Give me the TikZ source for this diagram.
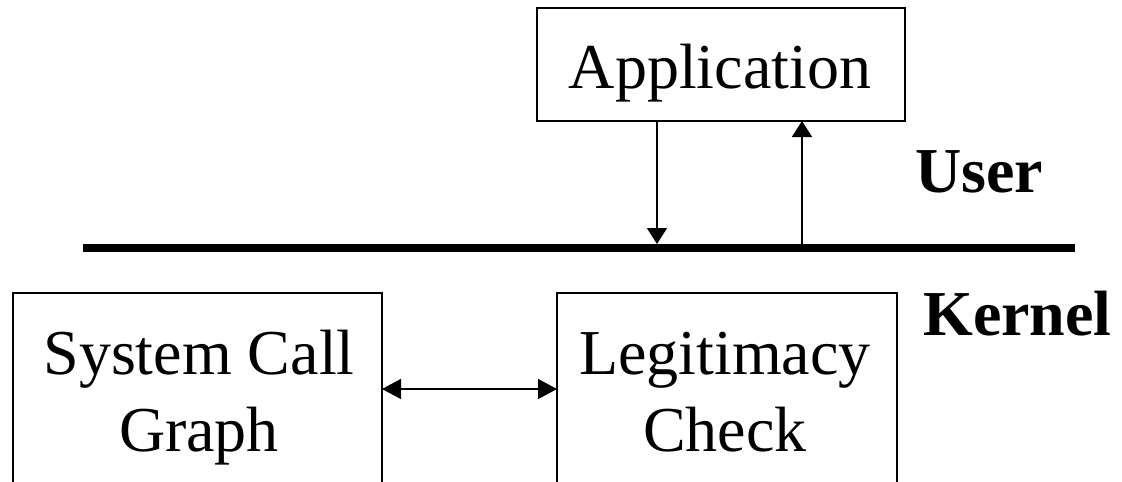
\documentclass[tikz,border=0pt]{standalone}
\usepackage{fontspec}
\setmainfont{Liberation Serif}
\usetikzlibrary{arrows.meta}
\begin{document}
\begin{tikzpicture}[x=1pt,y=-1pt,
  box/.style={draw, line width=2pt, inner sep=0pt, outer sep=0pt, rectangle},
  txt/.style={inner sep=0pt, anchor=base, font=\fontsize{64}{70}\selectfont},
  btxt/.style={inner sep=0pt, font=\fontsize{64}{70}\selectfont\bfseries, anchor=base west},
  conn/.style={line width=1.6pt, -{Triangle[length=16pt,width=20pt]}},
  dconn/.style={line width=1.6pt, {Triangle[length=19pt,width=20pt]}-{Triangle[length=19pt,width=20pt]}}]
\useasboundingbox (0,0) rectangle (1122,482);
\clip (0,0) rectangle (1122,482);
% Application box
\node[box, minimum width=368pt, minimum height=113pt, anchor=north west] (app) at (537,8) {};
\node[txt] (apptxt) at (720,88) {Application};
% separator line
\coordinate (bl) at (83,248);
\coordinate (br) at (1075,248);
\draw[line width=8pt] (bl) -- (br);
\coordinate (d1) at (657,244);
\coordinate (u1) at (802,244);
\draw[conn] (d1 |- app.south) -- (d1);
\draw[conn] (u1) -- (u1 |- app.south);
% labels
\node[btxt] (user) at (915,192) {User};
\node[btxt] (kernel) at (923,335) {Kernel};
% kernel boxes
\node[box, minimum width=369pt, minimum height=240pt, anchor=north west] (sys) at (13,293) {};
\node[box, minimum width=340pt, minimum height=240pt, anchor=north west] (leg) at (557,293) {};
\node[txt] (sys1) at (199,374) {System Call};
\node[txt] (sys2) at (199,451) {Graph};
\node[txt] (leg1) at (725,374) {Legitimacy};
\node[txt] (leg2) at (725,451) {Check};
\draw[dconn] ([yshift=-96pt]sys.north east) -- ([yshift=-96pt]leg.north west);
\end{tikzpicture}
\end{document}
